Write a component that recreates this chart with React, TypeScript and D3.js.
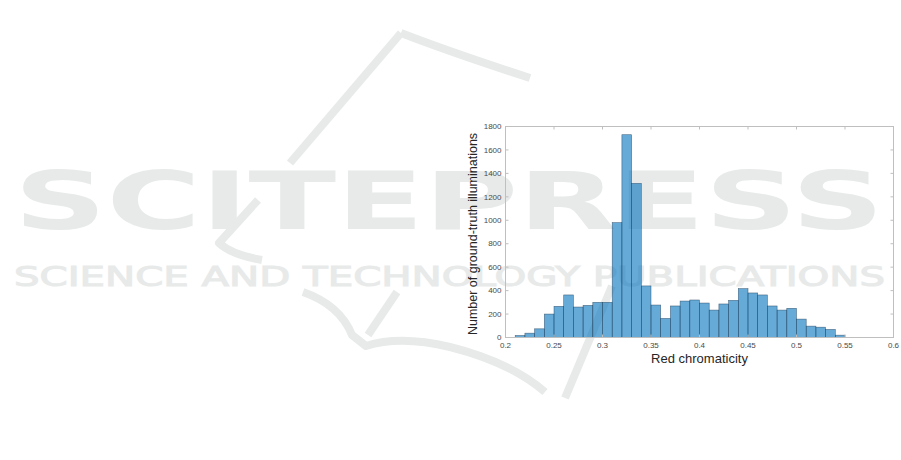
import React from "react";
import * as d3 from "d3";

// Histogram of red chromaticity, bin width 0.01 starting at 0.21
const binStarts = [
  0.21, 0.22, 0.23, 0.24, 0.25, 0.26, 0.27, 0.28, 0.29, 0.30,
  0.31, 0.32, 0.33, 0.34, 0.35, 0.36, 0.37, 0.38, 0.39, 0.40,
  0.41, 0.42, 0.43, 0.44, 0.45, 0.46, 0.47, 0.48, 0.49, 0.50,
  0.51, 0.52, 0.53, 0.54,
];
const counts = [
  17, 37, 74, 200, 266, 363, 260, 274, 300, 300,
  980, 1730, 1315, 440, 277, 163, 269, 311, 320, 294,
  234, 286, 317, 417, 380, 363, 269, 234, 249, 157,
  97, 88, 69, 20,
];
const binWidth = 0.01;
const xTicks = [0.2, 0.25, 0.3, 0.35, 0.4, 0.45, 0.5, 0.55, 0.6];
const yTicks = [0, 200, 400, 600, 800, 1000, 1200, 1400, 1600, 1800];
const xLabel = "Red chromaticity";
const yLabel = "Number of ground-truth illuminations";
const wmTitle = "SCITEPRESS";
const wmSub = "SCIENCE AND TECHNOLOGY PUBLICATIONS";

export default function App() {
  const W = 901, H = 460;
  const left = 505.5, right = 893.5, top = 126.5, bottom = 337.5;
  const x = d3.scaleLinear().domain([0.2, 0.6]).range([left, right]);
  const y = d3.scaleLinear().domain([0, 1800]).range([bottom, top]);
  const tick = 3;
  const axisColor = "#bfbfbf";
  const labelColor = "#4a4a4a";
  const wm = "#e8eaea";
  const fmt = (t: number) => String(+t.toFixed(2));

  return (
    <svg
      width={W}
      height={H}
      viewBox={`0 0 ${W} ${H}`}
      style={{ position: "absolute", left: 0, top: 0, background: "#fff" }}
      fontFamily="'Liberation Sans', Arial, Helvetica, sans-serif"
    >
      <rect x={0} y={0} width={W} height={H} fill="#fff" />
      {/* watermark */}
      <g fill="none" stroke={wm} strokeWidth={8} strokeLinejoin="round" strokeLinecap="butt">
        <path d="M 401 33 L 290 163" />
        <path d="M 401 33 Q 450 52 530 78" />
        <path d="M 258 200 L 219 243 Q 232 255 262 260" />
        <path d="M 303 292 Q 340 305 352 335 L 366 346 Q 400 335 450 347 Q 510 362 545 392" />
        <path d="M 397 292 L 368 335" />
        <path d="M 565 398 L 612 286" />
      </g>
      <text
        x={14}
        y={229}
        fontFamily="'DejaVu Sans', sans-serif"
        fontWeight="bold"
        fontSize={81}
        fill={wm}
        textLength={870}
        lengthAdjust="spacingAndGlyphs"
      >
        {wmTitle}
      </text>
      <text
        x={14}
        y={286}
        fontFamily="'DejaVu Sans', sans-serif"
        fontSize={26}
        fill={wm}
        stroke={wm}
        strokeWidth={1}
        textLength={871}
        lengthAdjust="spacingAndGlyphs"
      >
        {wmSub}
      </text>

      {/* bars */}
      <g>
        {binStarts.map((b, i) => (
          <rect
            key={i}
            x={x(b)}
            y={y(counts[i])}
            width={x(b + binWidth) - x(b)}
            height={y(0) - y(counts[i])}
            fill="#0072BD"
            fillOpacity={0.6}
            stroke="#1f3f5a"
            strokeOpacity={0.7}
            strokeWidth={0.6}
          />
        ))}
      </g>

      {/* box */}
      <rect
        x={left}
        y={top}
        width={right - left}
        height={bottom - top}
        fill="none"
        stroke={axisColor}
        strokeWidth={1}
      />
      {/* x ticks */}
      {xTicks.map((t, i) => (
        <g key={"x" + i}>
          <line x1={x(t)} x2={x(t)} y1={bottom} y2={bottom - tick} stroke={axisColor} />
          <line x1={x(t)} x2={x(t)} y1={top} y2={top + tick} stroke={axisColor} />
          <text x={x(t)} y={bottom + 10} fontSize={8} fill={labelColor} textAnchor="middle">
            {fmt(t)}
          </text>
        </g>
      ))}
      {/* y ticks */}
      {yTicks.map((t, i) => (
        <g key={"y" + i}>
          <line x1={left} x2={left + tick} y1={y(t)} y2={y(t)} stroke={axisColor} />
          <line x1={right} x2={right - tick} y1={y(t)} y2={y(t)} stroke={axisColor} />
          <text x={left - 4} y={y(t)} dy="0.34em" fontSize={8} fill={labelColor} textAnchor="end">
            {t}
          </text>
        </g>
      ))}
      <text x={(left + right) / 2} y={363} fontSize={13} fill="#262626" textAnchor="middle">
        {xLabel}
      </text>
      <text
        transform={`translate(477, ${(top + bottom) / 2 + 2}) rotate(-90)`}
        fontSize={12.5}
        fill="#262626"
        textAnchor="middle"
      >
        {yLabel}
      </text>
    </svg>
  );
}
